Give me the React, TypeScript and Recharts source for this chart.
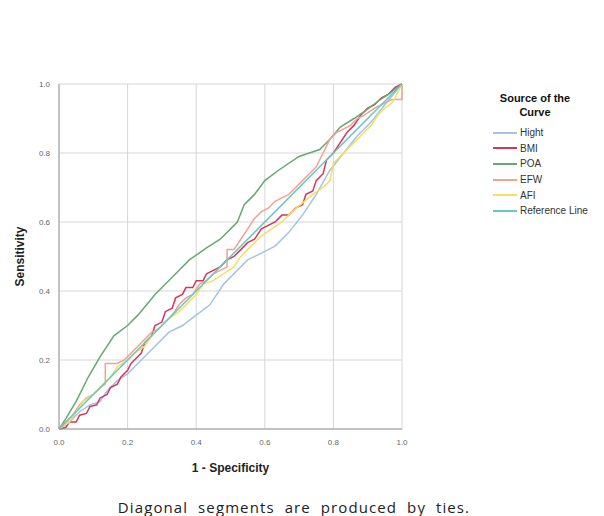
import { LineChart, Line, XAxis, YAxis, CartesianGrid } from "recharts"

// 1 - Specificity / Sensitivity pairs
const hightX = [0, 0.03, 0.06, 0.09, 0.12, 0.14, 0.17, 0.2, 0.24, 0.28, 0.32, 0.36, 0.4, 0.44, 0.48, 0.51, 0.55, 0.59, 0.63, 0.67, 0.71, 0.75, 0.79, 0.83, 0.87, 0.91, 0.95, 1]
const hightY = [0, 0.02, 0.05, 0.07, 0.08, 0.11, 0.14, 0.16, 0.2, 0.24, 0.28, 0.3, 0.33, 0.36, 0.42, 0.45, 0.49, 0.51, 0.53, 0.57, 0.62, 0.68, 0.75, 0.8, 0.85, 0.89, 0.94, 1]

const bmiX = [0, 0.02, 0.03, 0.05, 0.06, 0.08, 0.09, 0.11, 0.12, 0.14, 0.15, 0.17, 0.18, 0.2, 0.21, 0.22, 0.24, 0.25, 0.27, 0.28, 0.3, 0.31, 0.33, 0.34, 0.36, 0.37, 0.39, 0.4, 0.42, 0.43, 0.45, 0.47, 0.49, 0.51, 0.53, 0.55, 0.57, 0.59, 0.61, 0.63, 0.65, 0.67, 0.69, 0.71, 0.72, 0.74, 0.75, 0.77, 0.78, 0.8, 0.82, 0.84, 0.86, 0.88, 0.9, 0.92, 0.94, 0.96, 0.98, 1]
const bmiY = [0, 0.005, 0.02, 0.02, 0.04, 0.045, 0.065, 0.07, 0.09, 0.1, 0.12, 0.13, 0.15, 0.17, 0.19, 0.2, 0.22, 0.25, 0.27, 0.3, 0.31, 0.34, 0.35, 0.38, 0.39, 0.41, 0.41, 0.43, 0.43, 0.45, 0.46, 0.47, 0.49, 0.5, 0.52, 0.54, 0.55, 0.58, 0.59, 0.6, 0.62, 0.62, 0.64, 0.65, 0.68, 0.69, 0.72, 0.74, 0.78, 0.8, 0.83, 0.86, 0.88, 0.91, 0.93, 0.94, 0.96, 0.97, 0.99, 1]

const poaX = [0, 0.02, 0.05, 0.085, 0.12, 0.16, 0.2, 0.23, 0.28, 0.33, 0.38, 0.43, 0.47, 0.5, 0.52, 0.54, 0.57, 0.6, 0.64, 0.7, 0.73, 0.76, 0.79, 0.82, 0.86, 0.89, 0.93, 0.96, 1]
const poaY = [0, 0.03, 0.08, 0.15, 0.21, 0.27, 0.3, 0.33, 0.39, 0.44, 0.49, 0.525, 0.55, 0.58, 0.6, 0.65, 0.68, 0.72, 0.75, 0.79, 0.8, 0.81, 0.84, 0.875, 0.9, 0.92, 0.95, 0.97, 1]

const efwX = [0, 0.02, 0.04, 0.06, 0.08, 0.1, 0.12, 0.135, 0.135, 0.17, 0.19, 0.21, 0.23, 0.25, 0.27, 0.29, 0.31, 0.33, 0.35, 0.37, 0.39, 0.41, 0.43, 0.45, 0.47, 0.49, 0.49, 0.51, 0.53, 0.55, 0.57, 0.59, 0.61, 0.63, 0.65, 0.67, 0.69, 0.71, 0.73, 0.75, 0.77, 0.79, 0.81, 0.83, 0.85, 0.87, 0.89, 0.92, 0.97, 1, 1]
const efwY = [0, 0.02, 0.04, 0.07, 0.09, 0.1, 0.12, 0.13, 0.19, 0.19, 0.2, 0.22, 0.24, 0.26, 0.28, 0.29, 0.31, 0.33, 0.36, 0.38, 0.39, 0.42, 0.43, 0.45, 0.46, 0.47, 0.52, 0.52, 0.55, 0.58, 0.61, 0.63, 0.64, 0.66, 0.67, 0.68, 0.7, 0.72, 0.74, 0.76, 0.8, 0.84, 0.86, 0.87, 0.88, 0.9, 0.91, 0.93, 0.955, 0.955, 1]

const afiX = [0, 0.03, 0.05, 0.07, 0.1, 0.12, 0.15, 0.17, 0.2, 0.22, 0.25, 0.27, 0.29, 0.32, 0.35, 0.38, 0.4, 0.42, 0.45, 0.48, 0.51, 0.53, 0.56, 0.59, 0.62, 0.65, 0.68, 0.71, 0.74, 0.77, 0.79, 0.8, 0.83, 0.86, 0.89, 0.91, 0.93, 0.95, 0.97, 0.98, 1]
const afiY = [0, 0.02, 0.05, 0.08, 0.1, 0.12, 0.15, 0.18, 0.2, 0.22, 0.24, 0.27, 0.29, 0.32, 0.34, 0.37, 0.39, 0.42, 0.43, 0.45, 0.47, 0.5, 0.53, 0.56, 0.58, 0.6, 0.63, 0.655, 0.68, 0.7, 0.72, 0.77, 0.8, 0.83, 0.86, 0.88, 0.91, 0.93, 0.945, 0.96, 1]

const refX = [0, 1]
const refY = [0, 1]

const ticks = [0, 0.2, 0.4, 0.6, 0.8, 1]

const toPoints = (xs: number[], ys: number[]) => xs.map((x, i) => ({ x, y: ys[i] }))

const series = [
  { name: "Hight", color: "#a4c2e6", data: toPoints(hightX, hightY) },
  { name: "BMI", color: "#d8345f", data: toPoints(bmiX, bmiY) },
  { name: "POA", color: "#68a873", data: toPoints(poaX, poaY) },
  { name: "EFW", color: "#f2a28f", data: toPoints(efwX, efwY) },
  { name: "AFI", color: "#f4df5e", data: toPoints(afiX, afiY) },
  { name: "Reference Line", color: "#68c8c4", data: toPoints(refX, refY) },
]

const font = "'Liberation Sans', Arial, sans-serif"

export default function App() {
  return (
    <div style={{ position: "relative", width: 596, height: 508, fontFamily: font }}>
      <LineChart
        width={596}
        height={480}
        margin={{ top: 76, right: 202, left: 4, bottom: 9 }}
      >
        <CartesianGrid stroke="#d6d6d6" horizontalValues={ticks} verticalValues={ticks} />
        <XAxis
          type="number"
          dataKey="x"
          domain={[0, 1]}
          ticks={ticks}
          tickFormatter={(v: number) => v.toFixed(1)}
          tickLine={false}
          tickSize={0}
          tickMargin={10}
          height={50}
          axisLine={{ stroke: "#9a9a9a" }}
          tick={{ fontSize: 8, fill: "#666", fontFamily: font }}
          allowDuplicatedCategory={false}
          label={{
            value: "1 - Specificity",
            position: "insideBottom",
            offset: 7,
            style: { fontSize: 12, fontWeight: "bold", fill: "#222", fontFamily: font },
          }}
        />
        <YAxis
          type="number"
          dataKey="y"
          domain={[0, 1]}
          ticks={ticks}
          tickFormatter={(v: number) => v.toFixed(1)}
          tickLine={false}
          tickSize={0}
          tickMargin={9}
          width={47}
          axisLine={{ stroke: "#9a9a9a" }}
          tick={{ fontSize: 8, fill: "#666", fontFamily: font }}
          label={{
            value: "Sensitivity",
            angle: -90,
            position: "insideLeft",
            offset: 8,
            style: { fontSize: 12, fontWeight: "bold", fill: "#222", fontFamily: font, textAnchor: "middle" },
          }}
        />
        {series.map((s) => (
          <Line
            key={s.name}
            data={s.data}
            dataKey="y"
            type="linear"
            stroke={s.color}
            strokeWidth={1.5}
            dot={false}
            activeDot={false}
            isAnimationActive={false}
            name={s.name}
          />
        ))}
      </LineChart>

      <div style={{ position: "absolute", left: 477, top: 83, width: 100, textAlign: "center", fontWeight: "bold", fontSize: 11, lineHeight: "14px", color: "#111" }}>
        Source of the
        <br />
        Curve
      </div>
      <div style={{ position: "absolute", left: 485, top: 117 }}>
        {series.map((s) => (
          <div key={s.name} style={{ display: "flex", alignItems: "center", height: 15.6, fontSize: 10, color: "#333" }}>
            <span style={{ display: "inline-block", width: 24, height: 2, background: s.color, marginRight: 3 }} />
            {s.name}
          </div>
        ))}
      </div>

      <div style={{ position: "absolute", left: 0, top: 490, width: 572, height: 18, lineHeight: "18px", textAlign: "center", fontFamily: "'Open Sans', sans-serif", fontSize: 15, letterSpacing: 1.1, wordSpacing: 5, color: "#222" }}>
        Diagonal segments are produced by ties.
      </div>
    </div>
  )
}
